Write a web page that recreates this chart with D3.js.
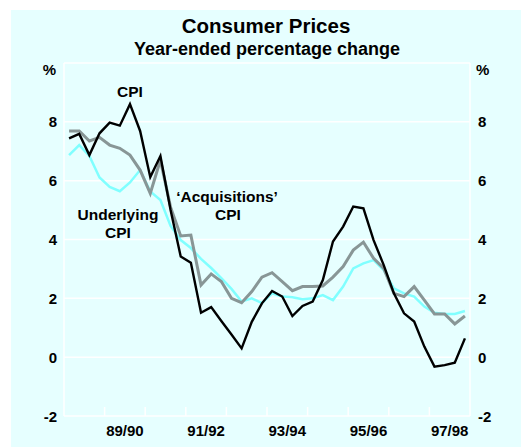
<html>
<head>
<script src="https://d3js.org/d3.v7.min.js"></script>
<style>
  body { margin: 0; background: white; }
  text { font-family: Arial, "Liberation Sans", sans-serif; font-weight: bold; fill: black; }
</style>
</head>
<body>
<svg id="chart"></svg>
<script>
// quarterly, Sep 1988 .. Jun 1998
let cpi = [7.44, 7.59, 6.87, 7.61, 7.97, 7.87, 8.60, 7.69, 6.12, 6.84,
           5.0, 3.42, 3.21, 1.51, 1.70, 1.23, 0.77, 0.30, 1.2, 1.83,
           2.25, 2.06, 1.40, 1.74, 1.89, 2.62, 3.93, 4.44, 5.12, 5.06,
           3.98, 3.13, 2.17, 1.49, 1.21, 0.36, -0.32, -0.27, -0.19, 0.64]
let acquisitions = [7.69, 7.69, 7.35, 7.47, 7.21, 7.10, 6.87, 6.36, 5.57, 6.70,
           5.1, 4.12, 4.15, 2.45, 2.83, 2.57, 2.0, 1.85, 2.23, 2.72,
           2.87, 2.57, 2.26, 2.40, 2.40, 2.42, 2.72, 3.08, 3.64, 3.91,
           3.36, 3.02, 2.17, 2.06, 2.40, 1.94, 1.47, 1.47, 1.13, 1.40]
let underlying = [6.87, 7.21, 6.84, 6.11, 5.79, 5.64, 5.94, 6.36, 5.63, 5.34,
           4.46, 3.98, 3.71, 3.34, 3.03, 2.69, 2.32, 1.89, 2.0, 1.84,
           2.17, 2.06, 2.04, 1.97, 2.0, 2.11, 1.94, 2.40, 3.02, 3.19,
           3.30, 2.96, 2.34, 2.17, 2.06, 1.72, 1.51, 1.47, 1.47, 1.57]
let yearLabels = ["88/89", "89/90", "90/91", "91/92", "92/93", "93/94", "94/95", "95/96", "96/97", "97/98"]
let shownLabels = ["89/90", "91/92", "93/94", "95/96", "97/98"]
let yTicks = [-2, 0, 2, 4, 6, 8]

let width = 521
let height = 448
let margin = { top: 63, bottom: 32, left: 64, right: 51 }
let bodyWidth = width - margin.left - margin.right
let bodyHeight = height - margin.top - margin.bottom

let svg = d3.select("#chart")
            .attr("width", width)
            .attr("height", height)

svg.append("rect")
   .attr("x", 11).attr("y", 10)
   .attr("width", width - 11).attr("height", 437)
   .attr("fill", "#e6ffff")

svg.append("text").attr("x", 266).attr("y", 33)
   .attr("text-anchor", "middle").style("font-size", "20.5px")
   .text("Consumer Prices")
svg.append("text").attr("x", 267).attr("y", 55)
   .attr("text-anchor", "middle").style("font-size", "18px")
   .text("Year-ended percentage change")

let xScale = d3.scaleLinear()
               .domain([0, cpi.length])
               .range([0, bodyWidth])
let yearScale = d3.scaleBand()
               .domain(yearLabels)
               .range([0, bodyWidth])
let yScale = d3.scaleLinear()
               .domain([-2, 10])
               .range([bodyHeight, 0])

let body = svg.append("g")
              .attr("transform", `translate(${margin.left},${margin.top})`)

// grid + frame
body.selectAll(".grid")
    .data(yTicks.concat([10]))
    .enter()
    .append("line")
      .attr("x1", 0).attr("x2", bodyWidth)
      .attr("y1", d => yScale(d)).attr("y2", d => yScale(d))
      .attr("stroke", "white").attr("stroke-width", 1.5)

body.selectAll(".side")
    .data([0, bodyWidth])
    .enter()
    .append("line")
      .attr("x1", d => d).attr("x2", d => d)
      .attr("y1", 0).attr("y2", bodyHeight)
      .attr("stroke", "white").attr("stroke-width", 1.5)

// year ticks along the bottom, pointing up
body.selectAll(".tick")
    .data(yearLabels.slice(1))
    .enter()
    .append("line")
      .attr("x1", d => yearScale(d)).attr("x2", d => yearScale(d))
      .attr("y1", bodyHeight).attr("y2", bodyHeight - 9)
      .attr("stroke", "white").attr("stroke-width", 1.5)

body.selectAll(".xlabel")
    .data(shownLabels)
    .enter()
    .append("text")
      .attr("x", d => yearScale(d) + yearScale.bandwidth() / 2)
      .attr("y", bodyHeight + 20)
      .attr("text-anchor", "middle")
      .style("font-size", "15px")
      .text(d => d)

body.selectAll(".ylabelL")
    .data(yTicks)
    .enter()
    .append("text")
      .attr("x", -7).attr("y", d => yScale(d) + 5.5)
      .attr("text-anchor", "end")
      .style("font-size", "15px")
      .text(d => d)

body.selectAll(".ylabelR")
    .data(yTicks)
    .enter()
    .append("text")
      .attr("x", bodyWidth + 8).attr("y", d => yScale(d) + 5.5)
      .attr("text-anchor", "start")
      .style("font-size", "15px")
      .text(d => d)

body.append("text").attr("x", -8).attr("y", 12)
    .attr("text-anchor", "end").style("font-size", "15px").text("%")
body.append("text").attr("x", bodyWidth + 6).attr("y", 12)
    .attr("text-anchor", "start").style("font-size", "15px").text("%")

let line = d3.line()
             .x((d, i) => xScale(i + 0.5))
             .y(d => yScale(d))

body.append("path").attr("d", line(underlying))
    .attr("fill", "none").attr("stroke", "#80ffff").attr("stroke-width", 2.5)
body.append("path").attr("d", line(acquisitions))
    .attr("fill", "none").attr("stroke", "#889696").attr("stroke-width", 3)
body.append("path").attr("d", line(cpi))
    .attr("fill", "none").attr("stroke", "black").attr("stroke-width", 2.4)

// annotations
let notes = [
  { t: "CPI", x: 130, y: 97 },
  { t: "Underlying", x: 118, y: 220 },
  { t: "CPI", x: 118, y: 238 },
  { t: "\u2018Acquisitions\u2019", x: 227, y: 202 },
  { t: "CPI", x: 228, y: 220 }
]
svg.selectAll(".note")
   .data(notes)
   .enter()
   .append("text")
     .attr("x", d => d.x).attr("y", d => d.y)
     .attr("text-anchor", "middle")
     .style("font-size", "15.5px")
     .text(d => d.t)
</script>
</body>
</html>
